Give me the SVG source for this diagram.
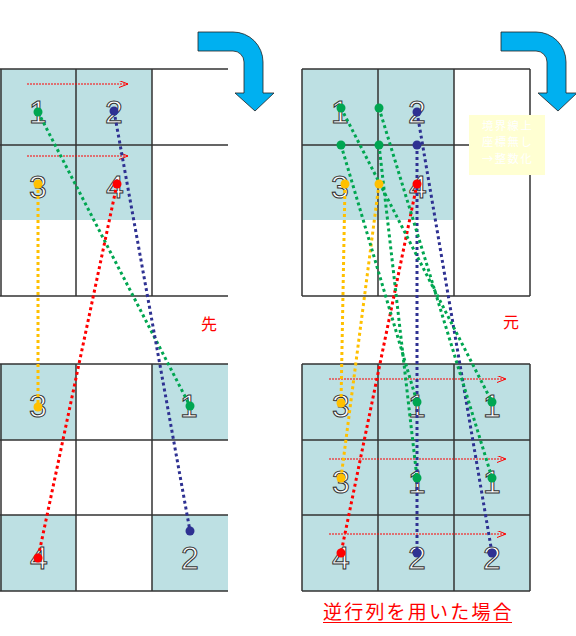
<svg xmlns="http://www.w3.org/2000/svg" width="576" height="636" viewBox="0 0 576 636">
<defs>
<style>
.cb{fill:#BDE0E3}
.gl{stroke:#333;stroke-width:1.5;fill:none}
.num{font-family:"Liberation Sans",Arial,sans-serif;font-size:32px;fill:#fff;stroke:#333;stroke-width:1;text-anchor:middle}
.lk{fill:none;stroke-width:3;stroke-dasharray:3 3}
.g{stroke:#00A651}.gf{fill:#00A651}
.b{stroke:#2E3192}.bf{fill:#2E3192}
.y{stroke:#FFC000}.yf{fill:#FFC000}
.r{stroke:#FF0000}.rf{fill:#FF0000}
.ra{stroke:#FF0000;stroke-width:1;fill:none;stroke-dasharray:2 1;marker-end:url(#chev)}
.bigarrow{fill:#00B0F0;stroke:#222;stroke-width:0.8}
.lbl{font-family:"Noto Sans CJK JP",sans-serif;fill:#FF0000;font-size:16px;text-anchor:middle}
.note{font-family:"Noto Sans CJK JP",sans-serif;fill:#fff;font-size:11.3px;letter-spacing:1.5px}
</style>
<marker id="chev" markerWidth="10" markerHeight="8" refX="9" refY="3.5" orient="auto" markerUnits="userSpaceOnUse">
<path d="M0,0 L9,3.5 L0,7" fill="none" stroke="#FF0000" stroke-width="1"/>
</marker>
</defs>
<rect width="576" height="636" fill="#fff"/>

<g id="left-source-grid">
<rect class="cb" x="0" y="69" width="152" height="151"/>
<path class="gl" d="M0,69H228M0,145H228M0,296H228M1,69V296M76,69V296M152,69V296"/>
<text class="num" x="38" y="123">1</text>
<text class="num" x="114" y="123">2</text>
<text class="num" x="38" y="198">3</text>
<text class="num" x="115" y="198">4</text>
</g>

<g id="left-dest-grid">
<rect class="cb" x="0" y="364" width="76" height="76"/>
<rect class="cb" x="152" y="364" width="76" height="76"/>
<rect class="cb" x="0" y="515" width="76" height="76"/>
<rect class="cb" x="152" y="515" width="76" height="76"/>
<path class="gl" d="M0,364H228M0,440H228M0,515H228M0,591H228M1,364V591M76,364V591M152,364V591"/>
<text class="num" x="38" y="417">3</text>
<text class="num" x="189" y="417">1</text>
<text class="num" x="39" y="569">4</text>
<text class="num" x="190" y="569">2</text>
</g>

<g id="right-source-grid">
<rect class="cb" x="302" y="69" width="152" height="151"/>
<path class="gl" d="M302,69H530M302,145H530M302,296H530M302,69V296M378,69V296M454,69V296M530,69V296"/>
<text class="num" x="340" y="123">1</text>
<text class="num" x="417" y="123">2</text>
<text class="num" x="340" y="198">3</text>
<text class="num" x="418" y="198">4</text>
</g>

<g id="right-dest-grid">
<rect class="cb" x="302" y="364" width="228" height="227"/>
<path class="gl" d="M302,364H530M302,440H530M302,515H530M302,591H530M302,364V591M378,364V591M454,364V591M530,364V591"/>
<text class="num" x="341" y="417">3</text>
<text class="num" x="417" y="417">1</text>
<text class="num" x="492" y="417">1</text>
<text class="num" x="341" y="493">3</text>
<text class="num" x="417" y="493">1</text>
<text class="num" x="492" y="493">1</text>
<text class="num" x="341" y="569">4</text>
<text class="num" x="417" y="569">2</text>
<text class="num" x="492" y="569">2</text>
</g>

<g id="scan-arrows">
<path class="ra" d="M27,84H128"/>
<path class="ra" d="M27,156H128"/>
<path class="ra" d="M329,379H506"/>
<path class="ra" d="M329,459H506"/>
<path class="ra" d="M329,534H506"/>
</g>

<g id="note">
<rect x="469" y="115" width="76" height="60" fill="#FFFFD2"/>
<text class="note" x="482" y="129.5">境界線上</text>
<text class="note" x="482" y="146">座標無し</text>
<text class="note" x="482" y="162.5">→整数化</text>
</g>

<g id="rotate-arrow-left">
<path class="bigarrow" d="M198,32H233A30,30 0 0 1 263,62V93H274L255,111L235,93H244V62A11,11 0 0 0 233,51H198Z"/>
</g>
<g id="rotate-arrow-right">
<path class="bigarrow" d="M501,32H536A30,30 0 0 1 566,62V93H577L558,111L538,93H547V62A11,11 0 0 0 536,51H501Z"/>
</g>

<g id="connectors">
<path class="lk g" d="M38,112L190,406"/>
<path class="lk b" d="M114,111L190,531"/>
<path class="lk y" d="M38,184L38,407"/>
<path class="lk r" d="M117,184L38,558"/>
<path class="lk y" d="M345,184L341,403"/>
<path class="lk y" d="M379,184L341,478"/>
<path class="lk r" d="M417,184L341,553"/>
<path class="lk b" d="M417,112L492,553"/>
<path class="lk b" d="M417,145L417,553"/>
<path class="lk g" d="M341,145L417,402"/>
<path class="lk g" d="M379,145L417,478"/>
<path class="lk g" d="M341,108L492,402"/>
<path class="lk g" d="M379,108L492,478"/>
</g>

<g id="points">
<circle class="gf" cx="38" cy="112" r="4.5"/>
<circle class="bf" cx="114" cy="111" r="4.5"/>
<circle class="yf" cx="38" cy="184" r="4.5"/>
<circle class="rf" cx="117" cy="184" r="4.5"/>
<circle class="yf" cx="38" cy="407" r="4.5"/>
<circle class="gf" cx="190" cy="406" r="4.5"/>
<circle class="bf" cx="190" cy="531" r="4.5"/>
<circle class="rf" cx="38" cy="558" r="4.5"/>
<circle class="gf" cx="341" cy="108" r="4.5"/>
<circle class="gf" cx="379" cy="108" r="4.5"/>
<circle class="gf" cx="341" cy="145" r="4.5"/>
<circle class="gf" cx="379" cy="145" r="4.5"/>
<circle class="bf" cx="417" cy="112" r="4.5"/>
<circle class="bf" cx="417" cy="145" r="4.5"/>
<circle class="yf" cx="345" cy="184" r="4.5"/>
<circle class="yf" cx="379" cy="184" r="4.5"/>
<circle class="rf" cx="417" cy="184" r="4.5"/>
<circle class="yf" cx="341" cy="403" r="4.5"/>
<circle class="yf" cx="341" cy="478" r="4.5"/>
<circle class="gf" cx="417" cy="402" r="4.5"/>
<circle class="gf" cx="417" cy="478" r="4.5"/>
<circle class="gf" cx="492" cy="402" r="4.5"/>
<circle class="gf" cx="492" cy="478" r="4.5"/>
<circle class="rf" cx="341" cy="553" r="4.5"/>
<circle class="bf" cx="417" cy="553" r="4.5"/>
<circle class="bf" cx="492" cy="553" r="4.5"/>
</g>

<g id="labels">
<text class="lbl" x="209" y="330">先</text>
<text class="lbl" x="511" y="328">元</text>
<text x="323" y="619" font-family="&quot;Noto Sans CJK JP&quot;, sans-serif" font-size="19" letter-spacing="2.2" fill="#FF0000">逆行列を用いた場合</text>
<line x1="323" y1="622.5" x2="512" y2="622.5" stroke="#FF0000" stroke-width="1"/>
</g>
</svg>
